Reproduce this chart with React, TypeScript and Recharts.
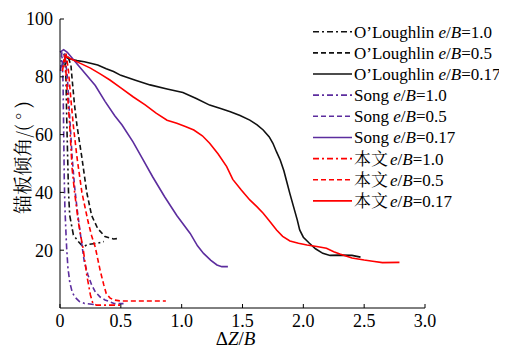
import React from 'react';
import { LineChart, Line, XAxis, YAxis, Legend, Label } from 'recharts';

type P = [number, number];

const oLoughlin10: P[] = [[0.02,84],[0.04,87],[0.05,78],[0.055,66],[0.063,52],[0.07,40],[0.08,32],[0.11,25.3],[0.15,23],[0.19,21.2],[0.23,22],[0.31,22.4],[0.36,23]];
const oLoughlin05: P[] = [[0.04,84],[0.07,86.5],[0.09,84],[0.1,79],[0.12,70],[0.14,63],[0.18,52],[0.22,40],[0.26,32],[0.31,27.5],[0.37,24.7],[0.44,23.9],[0.47,24]];
const oLoughlin017: P[] = [[0.03,88],[0.06,86.5],[0.1,86],[0.14,85.6],[0.2,85.2],[0.31,84.1],[0.38,82.8],[0.44,81.8],[0.5,80.5],[0.62,78.8],[0.74,77.2],[0.88,75.8],[1.01,74.6],[1.12,72.5],[1.23,70.2],[1.32,69],[1.4,67.9],[1.48,66.6],[1.56,65],[1.62,63.4],[1.67,61.6],[1.72,59.2],[1.75,57],[1.78,54],[1.81,51.2],[1.84,47.5],[1.86,44.3],[1.89,39.5],[1.92,35],[1.95,30.5],[1.97,27],[2,24.5],[2.05,22.4],[2.1,20.5],[2.16,18.9],[2.22,18.2],[2.3,18.3],[2.4,18.2],[2.47,17.6]];

const song10: P[] = [[0.005,82],[0.015,88.5],[0.025,78],[0.03,62],[0.035,45],[0.04,35],[0.05,25],[0.055,20.6],[0.065,14],[0.08,9],[0.1,5.5],[0.12,3.9],[0.16,2.2],[0.2,1.6],[0.28,1.2]];
const song05: P[] = [[0.02,84],[0.04,88],[0.06,80],[0.08,66],[0.1,52],[0.12,42],[0.14,34.5],[0.16,28],[0.18,21.8],[0.2,16],[0.23,11.4],[0.26,8],[0.29,5.6],[0.33,3.8],[0.37,2.8],[0.45,1.5],[0.53,1.5]];
const song017: P[] = [[0,88.5],[0.03,89.4],[0.06,88.5],[0.12,85.5],[0.2,81.5],[0.29,77],[0.37,71.5],[0.45,66.5],[0.51,63.3],[0.6,57.5],[0.68,51.5],[0.76,45.5],[0.86,38.5],[0.96,32],[1.07,25.8],[1.13,21.5],[1.18,18.9],[1.24,16.5],[1.29,14.9],[1.33,14.3],[1.38,14.3]];

const benwen10: P[] = [[0.02,82],[0.04,87],[0.06,75],[0.08,63],[0.1,48],[0.12,40],[0.15,30],[0.17,25],[0.19,20.6],[0.22,11.4],[0.25,4.5],[0.27,1.6],[0.3,1],[0.5,1]];
const benwen05: P[] = [[0.03,85],[0.05,88],[0.07,82],[0.09,72],[0.11,63],[0.14,52],[0.18,40],[0.23,30],[0.26,25],[0.29,21],[0.31,17],[0.33,13],[0.36,8],[0.38,5],[0.41,3.5],[0.44,2.8],[0.5,2.4],[0.87,2.4]];
const benwen017: P[] = [[0.03,87.5],[0.08,86.4],[0.15,85],[0.25,83],[0.33,81],[0.41,78.9],[0.5,76.2],[0.6,73.1],[0.7,70.3],[0.79,67.4],[0.88,65],[0.96,63.9],[1.03,62.8],[1.1,61.6],[1.17,59.6],[1.23,57],[1.3,53.3],[1.37,48.9],[1.42,44.5],[1.49,40.8],[1.56,37.4],[1.62,35],[1.67,32.8],[1.72,30.2],[1.78,27],[1.83,24.8],[1.89,23.2],[1.96,22.4],[2.03,21.8],[2.11,21.3],[2.19,20.7],[2.25,19.5],[2.3,18.7],[2.4,17.3],[2.5,16.6],[2.57,16.2],[2.65,15.7],[2.79,15.8]];

const xTicks = [0, 0.5, 1.0, 1.5, 2.0, 2.5, 3.0];
const yTicks = [20, 40, 60, 80, 100];

const BLACK = '#111111';
const PURPLE = '#5c2d9e';
const RED = '#ff0000';
const DASHDOT = '6 3 2 3';
const DASHED = '5 3';

const seriesList = [
  { key: 'ol10', prefix: 'O\u2019Loughlin ', ratio: '=1.0', data: oLoughlin10, color: BLACK, dash: DASHDOT },
  { key: 'ol05', prefix: 'O\u2019Loughlin ', ratio: '=0.5', data: oLoughlin05, color: BLACK, dash: DASHED },
  { key: 'ol017', prefix: 'O\u2019Loughlin ', ratio: '=0.17', data: oLoughlin017, color: BLACK, dash: undefined },
  { key: 's10', prefix: 'Song ', ratio: '=1.0', data: song10, color: PURPLE, dash: DASHDOT },
  { key: 's05', prefix: 'Song ', ratio: '=0.5', data: song05, color: PURPLE, dash: DASHED },
  { key: 's017', prefix: 'Song ', ratio: '=0.17', data: song017, color: PURPLE, dash: undefined },
  { key: 'b10', prefix: '本文', ratio: '=1.0', data: benwen10, color: RED, dash: DASHDOT },
  { key: 'b05', prefix: '本文', ratio: '=0.5', data: benwen05, color: RED, dash: DASHED },
  { key: 'b017', prefix: '本文', ratio: '=0.17', data: benwen017, color: RED, dash: undefined },
];

const SERIF_STACK = "'Times New Roman', 'Liberation Serif', Tinos, 'Nimbus Roman', 'Noto Serif CJK SC', serif";
const css = `
.chart-root, .chart-root text, .chart-root tspan, .chart-root .recharts-cartesian-axis-tick-value { font-family: ${SERIF_STACK} !important; }
.chart-root text.cjk, .chart-root text.cjk tspan { font-family: 'Noto Serif CJK SC', serif !important; }
`;

const LegendBox = () => (
  <svg width={205} height={205} style={{ display: 'block' }}>
    {seriesList.map((s, i) => {
      const cy = 13.7 + i * 21.15;
      const isCjk = s.prefix === '本文';
      return (
        <g key={s.key}>
          <line x1={5} x2={44} y1={cy} y2={cy} stroke={s.color} strokeWidth={1.6} strokeDasharray={s.dash} />
          {isCjk ? (
            <>
              <text className="cjk" x={46} y={cy + 6} fontSize={17} fill="#000">{s.prefix}</text>
              <text x={82} y={cy + 6} fontSize={17} fill="#000">
                <tspan fontStyle="italic">e</tspan>/<tspan fontStyle="italic">B</tspan>{s.ratio}
              </text>
            </>
          ) : (
            <text x={46} y={cy + 6} fontSize={17} fill="#000">
              {s.prefix}<tspan fontStyle="italic">e</tspan>/<tspan fontStyle="italic">B</tspan>{s.ratio}
            </text>
          )}
        </g>
      );
    })}
  </svg>
);

const fmtX = (v: number) => (v === 0 ? '0' : v.toFixed(1));
const tickStyle = { fill: '#000', fontSize: 18, fontFamily: 'Times New Roman' } as any;

export default function App() {
  return (
    <div className="chart-root" style={{ width: 499, height: 344, fontFamily: SERIF_STACK }}>
      <style>{css}</style>
      <LineChart width={499} height={344} margin={{ top: 11, right: 82, bottom: 0, left: 0 }}>
        <XAxis
          type="number"
          dataKey="x"
          domain={[0, 3]}
          ticks={xTicks}
          tickFormatter={fmtX}
          allowDuplicatedCategory={false}
          height={44}
          tickSize={-4}
          tickMargin={10}
          stroke="#000"
          tick={tickStyle}
          axisLine={{ stroke: '#000', strokeWidth: 1 }}
          tickLine={{ stroke: '#000' }}
        >
          <Label
            content={(props: any) => {
              const vb = props.viewBox || { x: 52, y: 300, width: 365, height: 44 };
              return (
                <text x={vb.x + vb.width / 2 - 7} y={vb.y + 37} textAnchor="middle" fontSize={19} fill="#000">
                  Δ<tspan fontStyle="italic">Z</tspan>/<tspan fontStyle="italic">B</tspan>
                </text>
              );
            }}
          />
        </XAxis>
        <YAxis
          type="number"
          domain={[0, 100]}
          ticks={yTicks}
          width={52}
          tickSize={-4}
          tickMargin={11}
          stroke="#000"
          tick={tickStyle}
          axisLine={{ stroke: '#000', strokeWidth: 1 }}
          tickLine={{ stroke: '#000' }}
        >
          <Label
            content={(props: any) => {
              const vb = props.viewBox || { x: 0, y: 11, width: 52, height: 289 };
              const cx = vb.x + 13;
              const cy = vb.y + vb.height / 2 - 6;
              return (
                <text className="cjk" x={cx} y={cy} transform={`rotate(-90 ${cx} ${cy})`} textAnchor="middle" dominantBaseline="central" fontSize={19} fill="#000">
                  锚板倾角/( ° )
                </text>
              );
            }}
          />
        </YAxis>
        <Legend
          layout="vertical"
          align="center"
          verticalAlign="middle"
          wrapperStyle={{ left: 300, top: 10, width: 205, height: 205 }}
          content={() => <LegendBox />}
        />
        {seriesList.map((s) => (
          <Line
            key={s.key}
            data={s.data.map(([x, y]) => ({ x, y }))}
            dataKey="y"
            type="linear"
            stroke={s.color}
            strokeWidth={1.6}
            strokeDasharray={s.dash}
            dot={false}
            activeDot={false}
            isAnimationActive={false}
          />
        ))}
      </LineChart>
    </div>
  );
}
